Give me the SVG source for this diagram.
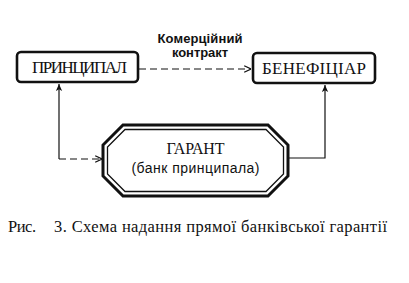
<svg xmlns="http://www.w3.org/2000/svg" width="409" height="283" viewBox="0 0 409 283">
<style>
.box{fill:#fff;stroke:#111;stroke-width:2.6}
.ser{font-family:"Liberation Serif","Times New Roman",serif;fill:#111}
.san{font-family:"Liberation Sans",Arial,sans-serif;fill:#111}
.ln{fill:none;stroke:#111;stroke-width:1.2}
.dash{stroke-dasharray:7 4}
</style>
<defs>
<marker id="open" viewBox="0 0 10 10" refX="9.5" refY="5" markerWidth="8" markerHeight="8" markerUnits="userSpaceOnUse" orient="auto">
<path d="M1,1 L9.5,5 L1,9" fill="none" stroke="#111" stroke-width="1.5"/>
</marker>
<marker id="fill" viewBox="0 0 10 10" refX="10" refY="5" markerWidth="8" markerHeight="7" markerUnits="userSpaceOnUse" orient="auto">
<path d="M0,0.5 L10,5 L0,9.5 L2.5,5 Z" fill="#111"/>
</marker>
</defs>
<g id="connectors">
<path class="ln dash" d="M139,69 H251" marker-end="url(#open)"/>
<path class="ln" d="M59,159 V84" marker-end="url(#fill)"/>
<path class="ln dash" d="M59,159 H102" marker-end="url(#open)"/>
<path class="ln" d="M289,158 H325 V85" marker-end="url(#fill)"/>
<text class="san" x="200" y="43" font-size="13" font-weight="bold" text-anchor="middle" textLength="85">Комерційний</text>
<text class="san" x="200" y="57" font-size="13" font-weight="bold" text-anchor="middle" textLength="56">контракт</text>
</g>
<g id="principal">
<rect class="box" x="17" y="52" width="121" height="30" rx="4"/>
<text class="ser" x="79.5" y="72.5" font-size="17" text-anchor="middle" textLength="95">ПРИНЦИПАЛ</text>
</g>
<g id="beneficiary">
<rect class="box" x="253" y="53" width="122" height="30" rx="4"/>
<text class="ser" x="314" y="73.5" font-size="17" text-anchor="middle" textLength="104">БЕНЕФІЦІАР</text>
</g>
<g id="garant">
<polygon points="123,125 268,125 288,145 288,176 268,196 123,196 103,176 103,145" fill="#fff" stroke="#111" stroke-width="3"/>
<polygon points="125,129.5 266,129.5 283.5,147 283.5,174 266,191.5 125,191.5 107.5,174 107.5,147" fill="none" stroke="#111" stroke-width="1.3"/>
<text class="ser" x="195.5" y="154" font-size="16" text-anchor="middle" textLength="58">ГАРАНТ</text>
<text class="san" x="195.5" y="173" font-size="14" text-anchor="middle" textLength="128">(банк принципала)</text>
</g>
<g id="caption">
<text class="ser" x="8" y="232" font-size="16.5" textLength="28">Рис.</text>
<text class="ser" x="54" y="232" font-size="16.5" textLength="333">3. Схема надання прямої банківської гарантії</text>
</g>
</svg>
